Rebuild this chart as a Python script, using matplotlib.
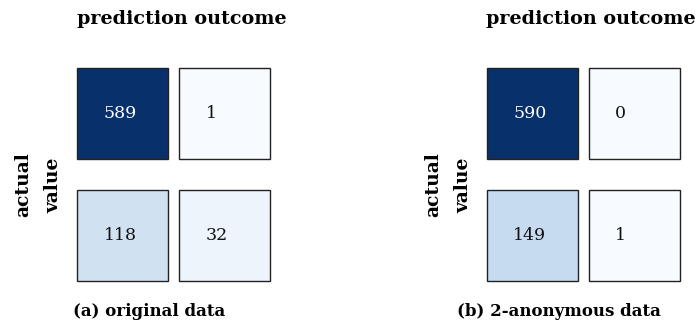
import matplotlib
matplotlib.use("Agg")
import matplotlib.pyplot as plt
from matplotlib.patches import Rectangle
from matplotlib.colors import Normalize
import numpy as np

# Confusion matrices (rows: actual value, columns: prediction outcome)
cm_original = [[589, 1],
               [118, 32]]
cm_anonymous = [[590, 0],
                [149, 1]]
captions = ["(a) original data", "(b) 2-anonymous data"]
title_text = "prediction outcome"
ylabel_text = "actual\nvalue"

plt.rcParams['font.family'] = ['DejaVu Serif']

W, H = 699, 325
fig = plt.figure(figsize=(W / 100, H / 100), dpi=100)

cmap = plt.get_cmap('Blues')
CELL = 91
XSTEP = 102
YSTEP = 122


def px_axes(left, top, right, bottom):
    return fig.add_axes([left / W, 1 - bottom / H, (right - left) / W, (bottom - top) / H])


def draw_matrix(left_px, top_px, cm):
    cm = np.asarray(cm)
    ax = px_axes(left_px, top_px, left_px + XSTEP + CELL, top_px + YSTEP + CELL)
    ax.set_xlim(0, XSTEP + CELL)
    ax.set_ylim(YSTEP + CELL, 0)
    ax.axis('off')
    norm = Normalize(vmin=cm.min(), vmax=cm.max())
    for i in range(cm.shape[0]):
        for j in range(cm.shape[1]):
            v = cm[i, j]
            x0, y0 = j * XSTEP, i * YSTEP
            ax.add_patch(Rectangle((x0, y0), CELL, CELL, facecolor=cmap(norm(v)),
                                   edgecolor='#222222', linewidth=1.0, clip_on=False))
            color = 'white' if norm(v) > 0.5 else '#111111'
            ax.text(x0 + 0.295 * CELL, y0 + CELL / 2 + 1, str(v), ha='left', va='center',
                    fontsize=12.5, color=color)
    return ax


layout = [
    dict(cm=cm_original, left=77, top=67.5, title_x=181.5, ylab_x=38.5, cap_x=149),
    dict(cm=cm_anonymous, left=486.5, top=67.5, title_x=591, ylab_x=448.5, cap_x=559),
]

for k, p in enumerate(layout):
    draw_matrix(p['left'], p['top'], p['cm'])
    fig.text(p['title_x'] / W, 1 - 19.5 / H, title_text, ha='center', va='center',
             fontsize=13.8, fontweight='bold')
    fig.text(p['ylab_x'] / W, 1 - 185 / H, ylabel_text, ha='center', va='center',
             rotation=90, fontsize=13.5, fontweight='bold', linespacing=1.9)
    fig.text(p['cap_x'] / W, 1 - 311 / H, captions[k], ha='center', va='center',
             fontsize=12, fontweight='bold')

fig.savefig('out.png', dpi=100)
